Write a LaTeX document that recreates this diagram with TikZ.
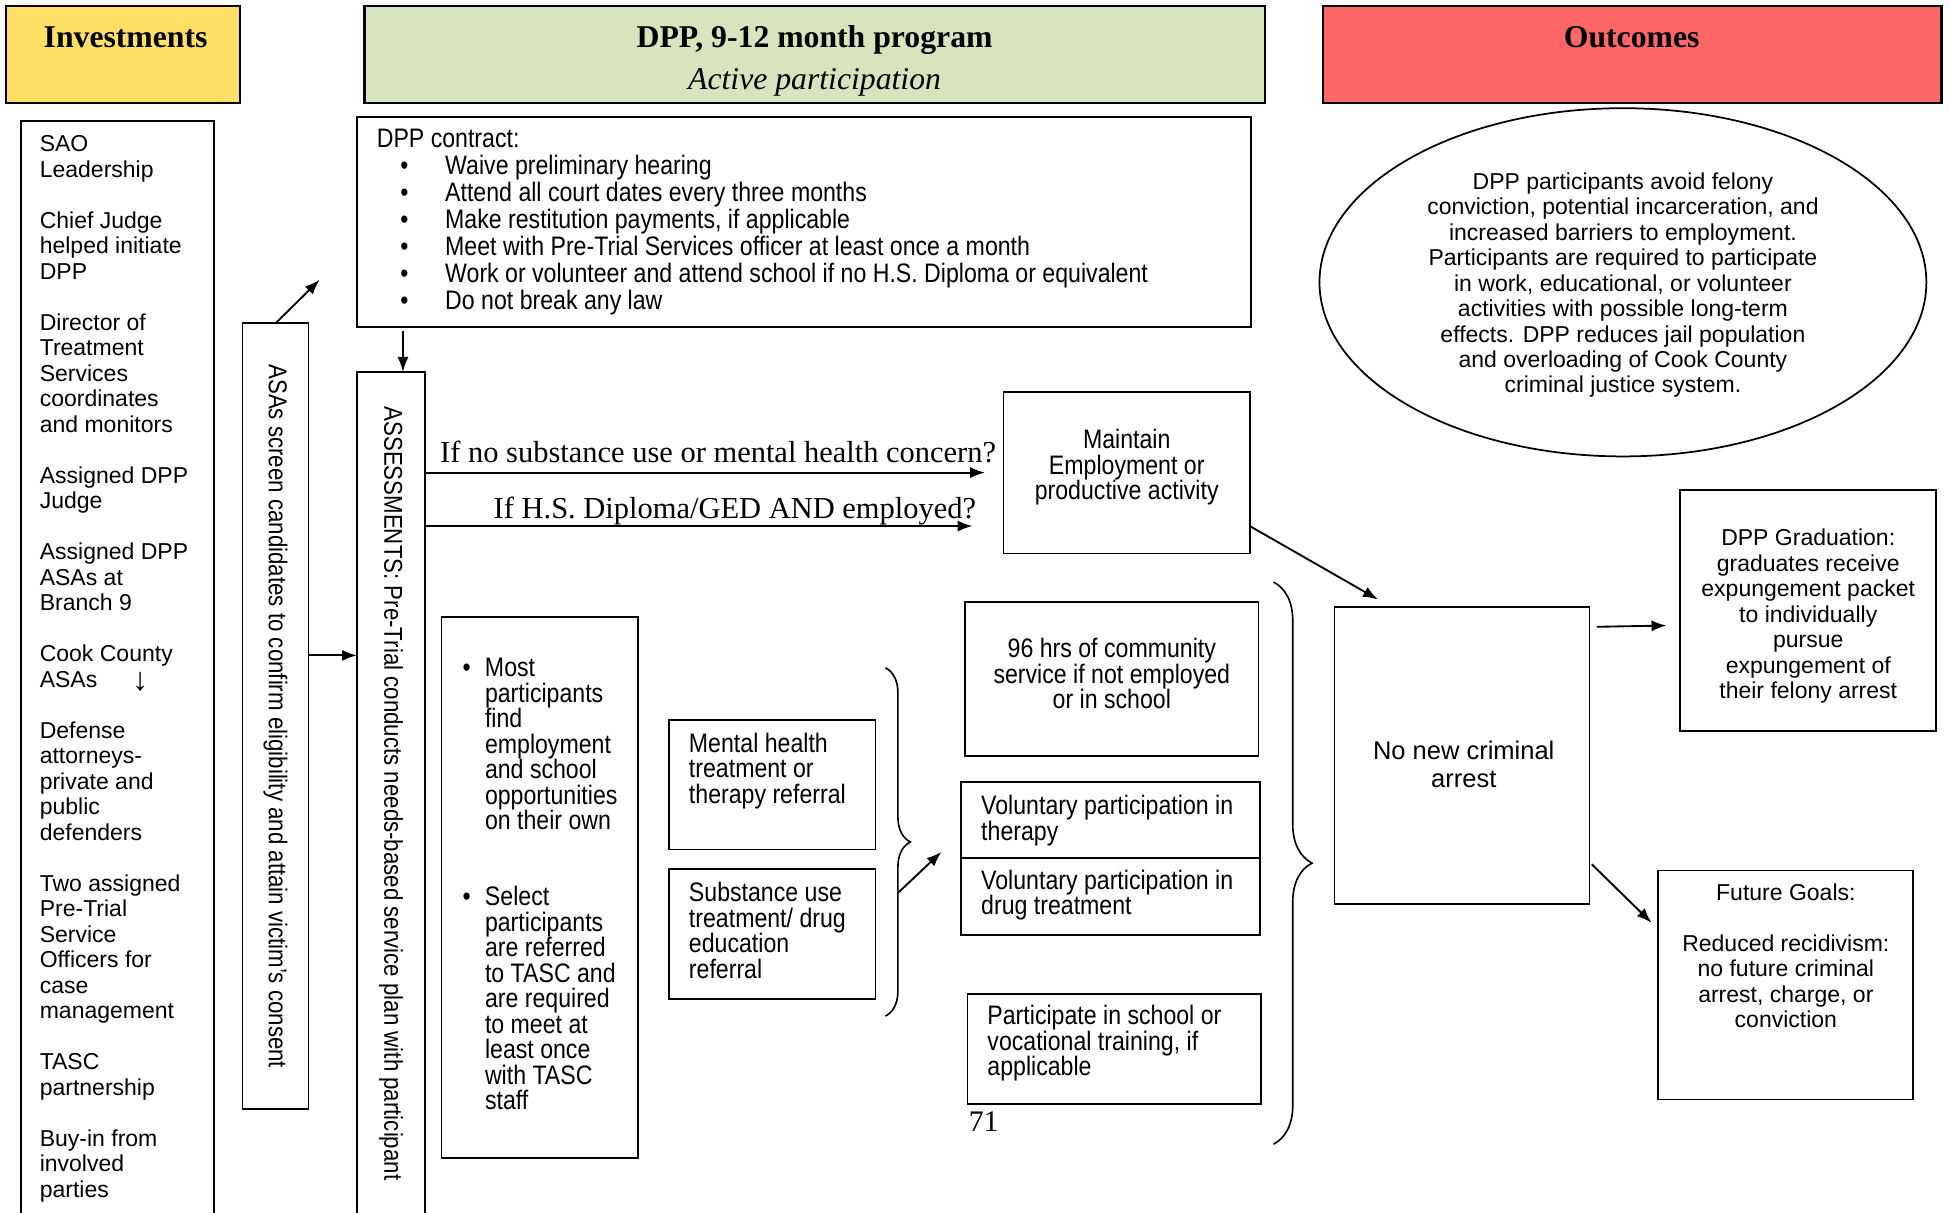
\documentclass[tikz,border=0pt]{standalone}
\usepackage{fontspec}
\setmainfont{Liberation Serif}
\newfontfamily\arial{Liberation Sans}
\newfontfamily\narrow[FakeStretch=0.865]{Liberation Sans}
\usetikzlibrary{arrows.meta,decorations.pathreplacing,shapes.geometric,fit,calc}
\newcommand\tp{\rule{0pt}{20pt}}
\definecolor{hyellow}{HTML}{FFDF66}
\definecolor{hgreen}{HTML}{D7E4BD}
\definecolor{hred}{HTML}{FF6666}
\tikzset{
  box/.style={draw, line width=1.4pt, inner sep=0pt, outer sep=0pt},
  hdr/.style={draw, line width=2pt, inner sep=0pt, outer sep=0pt},
  tx/.style={inner sep=0pt, outer sep=0pt},
  reg/.style={tx, font=\arial\fontsize{18.5}{20.5}\selectfont},
  nar/.style={tx, font=\narrow\fontsize{21.5}{20.5}\selectfont},
  vnar/.style={tx, font=\narrow\fontsize{20.7}{24}\selectfont, rotate=-90},
  hfont/.style={tx, font=\fontsize{25.5}{28}\selectfont},
  lab/.style={tx, font=\fontsize{24.5}{28}\selectfont},
  arr/.style={-{Latex[length=12pt,width=9pt]}, line width=1.5pt},
  brc/.style={line width=1.3pt, decorate},
}
\begin{document}
\begin{tikzpicture}[x=1pt,y=-1pt]
\useasboundingbox (0,0) rectangle (1568,975);
\clip (0,0) rectangle (1568,975);

% headers
\node[hdr, fill=hyellow, fit={(5,5) (193,83)}] (hinv) {};
\node[hdr, fill=hgreen, fit={(293,5) (1017,83)}] (hdpp) {};
\node[hdr, fill=hred, fit={(1064,5) (1561,83)}] (hout) {};
\node[hfont, font=\fontsize{25.5}{28}\selectfont\bfseries, anchor=base] (tinv) at (101,38.5) {Investments};
\node[hfont, font=\fontsize{25.5}{28}\selectfont\bfseries, anchor=base] (tdpp) at (655,38.5) {DPP, 9-12 month program};
\node[hfont, font=\fontsize{25.5}{28}\selectfont\itshape, anchor=base] (tact) at (655,72) {Active participation};
\node[hfont, font=\fontsize{25.5}{28}\selectfont\bfseries, anchor=base] (tout) at (1312,38.5) {Outcomes};

% boxes
\node[box, fit={(17,97) (172,990)}] (left) {};
\node[box, fit={(195,260) (248,892)}] (asa) {};
\node[box, fit={(287,94) (1006,263)}] (contract) {};
\node[box, fit={(287,299) (342,990)}] (assess) {};
\node[box, fit={(807,315) (1005,445)}] (maint) {};
\node[draw, line width=1.4pt, ellipse, minimum width=488pt, minimum height=280pt, inner sep=0pt] (ell) at (1305,227) {};
\node[box, fit={(1351,394) (1557,588)}] (grad) {};
\node[box, fit={(1073,488) (1278,727)}] (nonew) {};
\node[box, fit={(1333,700) (1538,884)}] (future) {};
\node[box, fit={(355,496) (513,931)}] (bul) {};
\node[box, fit={(538,579) (704,683)}] (mental) {};
\node[box, fit={(538,699) (704,803)}] (subst) {};
\node[box, fit={(776,484) (1012,608)}] (hrs) {};
\node[box, fit={(773,629) (1013,690)}] (volther) {};
\node[box, fit={(773,690) (1013,752)}] (voldrug) {};
\node[box, fit={(778,799) (1014,888)}] (school) {};

% left list
\node[reg, align=left, anchor=north west] (tleft) at (32,102) {\tp SAO\\Leadership\\[20.5pt]
Chief Judge\\helped initiate\\DPP\\[20.5pt]
Director of\\Treatment\\Services\\coordinates\\and monitors\\[20.5pt]
Assigned DPP\\Judge\\[20.5pt]
Assigned DPP\\ASAs at\\Branch 9\\[20.5pt]
Cook County\\ASAs\hspace{28pt}\raisebox{-3pt}{\rmfamily\fontsize{26}{26}\selectfont ↓}\\[20.5pt]
Defense\\attorneys-\\private and\\public\\defenders\\[20.5pt]
Two assigned\\Pre-Trial\\Service\\Officers for\\case\\management\\[20.5pt]
TASC\\partnership\\[20.5pt]
Buy-in from\\involved\\parties};

% vertical texts
\node[vnar] (tasa) at (221.5,576) {ASAs screen candidates to confirm eligibility and attain victim’s consent};
\node[vnar] (tassess) at (314.5,638) {ASSESSMENTS: Pre-Trial conducts needs-based service plan with participant};

% contract
\node[tx, font=\narrow\fontsize{21.5}{21.6}\selectfont, align=left, anchor=north west] (tcontract) at (303,99) {\tp DPP contract:\\
\hspace*{19pt}\makebox[36pt][l]{\textbullet}Waive preliminary hearing\\
\hspace*{19pt}\makebox[36pt][l]{\textbullet}Attend all court dates every three months\\
\hspace*{19pt}\makebox[36pt][l]{\textbullet}Make restitution payments, if applicable\\
\hspace*{19pt}\makebox[36pt][l]{\textbullet}Meet with Pre-Trial Services officer at least once a month\\
\hspace*{19pt}\makebox[36pt][l]{\textbullet}Work or volunteer and attend school if no H.S. Diploma or equivalent\\
\hspace*{19pt}\makebox[36pt][l]{\textbullet}Do not break any law};

% questions
\node[lab, anchor=base west] (q1t) at (354,372) {If no substance use or mental health concern?};
\node[lab, anchor=base west] (q2t) at (397,417) {If H.S. Diploma/GED AND employed?};

\node[nar, align=center, anchor=north] (tmaint) at (906,341) {\tp Maintain\\Employment or\\productive activity};

% ellipse text
\node[reg, align=center, anchor=north] (tell) at (1305,132) {\tp DPP participants avoid felony\\conviction, potential incarceration, and\\increased barriers to employment.\\Participants are required to participate\\in work, educational, or volunteer\\activities with possible long-term\\effects. DPP reduces jail population\\and overloading of Cook County\\criminal justice system.};

\node[reg, align=center, anchor=north] (tgrad) at (1454,419) {\tp DPP Graduation:\\graduates receive\\expungement packet\\to individually\\pursue\\expungement of\\their felony arrest};

\node[tx, font=\arial\fontsize{20.5}{23}\selectfont, align=center, anchor=north] (tnonew) at (1177,590.5) {\tp No new criminal\\arrest};

\node[reg, align=center, anchor=north] (tfuture) at (1436,704) {\tp Future Goals:\\[20.5pt]Reduced recidivism:\\no future criminal\\arrest, charge, or\\conviction};

% bullets box
\node[nar, align=left, anchor=north west] (tbul) at (372,524) {\tp\makebox[18pt][l]{\textbullet}Most\\
\hspace*{18pt}participants\\\hspace*{18pt}find\\\hspace*{18pt}employment\\\hspace*{18pt}and school\\\hspace*{18pt}opportunities\\\hspace*{18pt}on their own\\[41pt]
\makebox[18pt][l]{\textbullet}Select\\\hspace*{18pt}participants\\\hspace*{18pt}are referred\\\hspace*{18pt}to TASC and\\\hspace*{18pt}are required\\\hspace*{18pt}to meet at\\\hspace*{18pt}least once\\\hspace*{18pt}with TASC\\\hspace*{18pt}staff};

\node[nar, align=left, anchor=north west] (tmental) at (554,585) {\tp Mental health\\treatment or\\therapy referral};
\node[nar, align=left, anchor=north west] (tsubst) at (554,705) {\tp Substance use\\treatment/ drug\\education\\referral};
\node[nar, align=center, anchor=north] (thrs) at (894,509) {\tp 96 hrs of community\\service if not employed\\or in school};
\node[nar, align=left, anchor=north west] (tvolther) at (789,635) {\tp Voluntary participation in\\therapy};
\node[nar, align=left, anchor=north west] (tvoldrug) at (789,695) {\tp Voluntary participation in\\drug treatment};
\node[nar, align=left, anchor=north west] (tschool) at (794,804) {\tp Participate in school or\\vocational training, if\\applicable};
\node[tx, font=\fontsize{24}{28}\selectfont, anchor=base] (pnum) at (791,910) {71};

% braces
\coordinate (b1t) at (712,537);
\coordinate (b1b) at (712,817);
\draw[brc, decoration={brace, amplitude=20pt}] (b1t) -- (b1b);
\coordinate (b2t) at (1024,468);
\coordinate (b2b) at (1024,920);
\draw[brc, decoration={brace, amplitude=31pt}] (b2t) -- (b2b);

% connectors
\coordinate (asaend) at (257,225);
\draw[arr] (asa.north) -- (asaend);
\coordinate (a1) at (0,527);
\draw[arr] (asa.east |- a1) -- (assess.west |- a1);
\coordinate (c2) at (324,0);
\draw[arr] ([yshift=-3pt]contract.south -| c2) -- (assess.north -| c2);
\coordinate (q1) at (792,380);
\draw[arr] (assess.east |- q1) -- (q1);
\coordinate (q2) at (782,423);
\draw[arr] (assess.east |- q2) -- (q2);
\coordinate (m1) at (0,423);
\coordinate (m2) at (1108,482);
\draw[arr] (maint.east |- m1) -- (m2);
\coordinate (bs) at (722,718);
\coordinate (be) at (757,685);
\draw[arr] (bs) -- (be);
\draw[arr] ($(nonew.north east)+(6,16)$) -- ($(grad.west |- nonew.north)+(-11,15)$);
\draw[arr] ($(nonew.north east)+(2,207)$) -- ($(future.north west)+(-5,42)$);
\end{tikzpicture}
\end{document}
